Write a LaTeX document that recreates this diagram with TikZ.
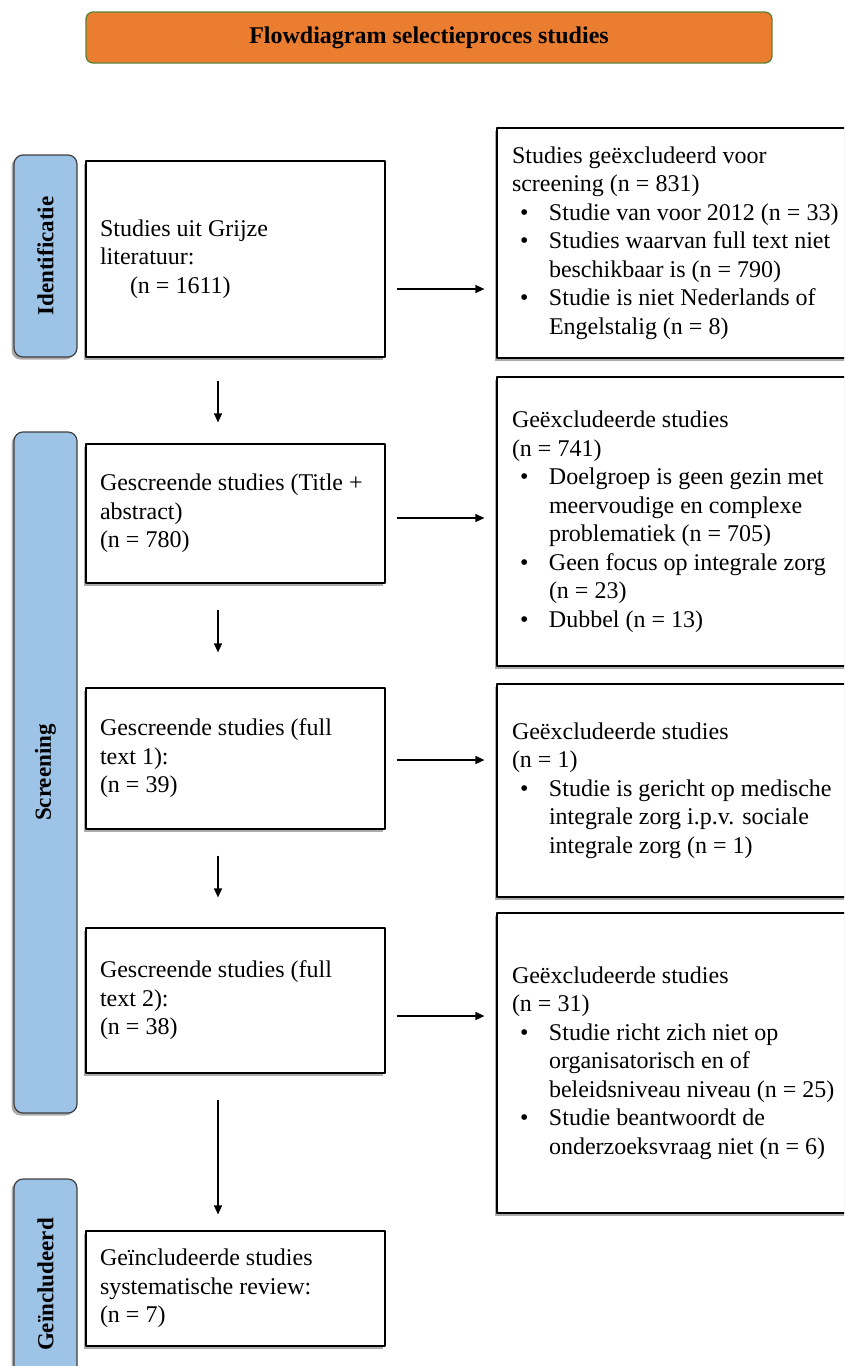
\documentclass[tikz,border=0pt]{standalone}
\usepackage{fontspec}
\usepackage{graphicx}
\setmainfont{Liberation Serif}
\usetikzlibrary{arrows.meta,shadows}
\definecolor{tabblue}{HTML}{9DC3E6}
\definecolor{titleorange}{HTML}{EB7D31}
\definecolor{titleedge}{HTML}{5E8236}
\newcommand{\bul}{\makebox[37pt][l]{\hspace*{8pt}\textbullet}}
\newcommand{\ind}{\hspace*{37pt}}
\tikzset{
  boxshadow/.style={drop shadow={shadow xshift=-2.5pt, shadow yshift=-2.5pt, opacity=1, fill=gray!65}},
  sidetab/.style={draw=black!75, line width=1.2pt, fill=tabblue, rounded corners=9pt, minimum width=63pt, inner sep=0pt, boxshadow, font=\bfseries\fontsize{23}{27}\selectfont},
  titlebox/.style={draw=titleedge, line width=1.3pt, fill=titleorange, rounded corners=7pt, minimum width=686pt, minimum height=51pt, font=\bfseries\fontsize{24}{28}\selectfont},
  lbox/.style={draw=black, line width=1.2pt, fill=white, minimum width=299pt, text width=271pt, inner xsep=14pt, align=flush left, boxshadow},
  rbox/.style={draw=black, line width=1.2pt, fill=white, minimum width=373pt, text width=343pt, inner xsep=15pt, align=flush left, boxshadow},
  arr/.style={-{Triangle[length=9pt, width=8pt]}, line width=1.3pt}
}
\begin{document}
\begin{tikzpicture}[x=1pt, y=-1pt, font=\fontsize{24}{28.5}\selectfont, line join=round]
\useasboundingbox (0,0) rectangle (844,1366);
\clip (0,0) rectangle (844,1366);
\node[titlebox] (title) at (429,37.5) {Flowdiagram selectieproces studies};
\node[sidetab, minimum height=202pt] (tabid) at (45.5,256) {\rotatebox{90}{Identificatie}};
\node[sidetab, minimum height=681pt] (tabscr) at (45.5,772.5) {\rotatebox{90}{Screening}};
\node[sidetab, minimum height=211pt] (tabinc) at (45.5,1284.5) {\rotatebox{90}{Geïncludeerd}};
\node[lbox, minimum height=196pt] (b1) at (235.5,259) {Studies uit Grijze\\ literatuur:\\ \hspace*{30pt}(n = 1611)};
\node[lbox, minimum height=139pt] (b2) at (235.5,513.5) {Gescreende studies (Title +\\ abstract)\\ (n = 780)};
\node[lbox, minimum height=141pt] (b3) at (235.5,758.5) {Gescreende studies (full\\ text 1):\\ (n = 39)};
\node[lbox, minimum height=145pt] (b4) at (235.5,1000.5) {Gescreende studies (full\\ text 2):\\ (n = 38)};
\node[lbox, minimum height=115pt] (b5) at (235.5,1288.5) {Geïncludeerde studies\\ systematische review:\\ (n = 7)};
\node[rbox, minimum height=230pt] (r1) at (683.5,243) {Studies geëxcludeerd voor\\ screening (n = 831)\\
  \bul Studie van voor 2012 (n = 33)\\ \bul Studies waarvan full text niet\\ \ind beschikbaar is (n = 790)\\
  \bul Studie is niet Nederlands of\\ \ind Engelstalig (n = 8)};
\node[rbox, minimum height=289pt] (r2) at (683.5,521.5) {Geëxcludeerde studies\\ (n = 741)\\
  \bul Doelgroep is geen gezin met\\ \ind meervoudige en complexe\\ \ind problematiek (n = 705)\\
  \bul Geen focus op integrale zorg\\ \ind (n = 23)\\ \bul Dubbel (n = 13)\par\vspace*{23pt}};
\node[rbox, minimum height=213pt] (r3) at (683.5,790.5) {Geëxcludeerde studies\\ (n = 1)\\
  \bul Studie is gericht op medische\\ \ind integrale zorg i.p.v. sociale\\ \ind integrale zorg (n = 1)};
\node[rbox, minimum height=300pt] (r4) at (683.5,1063) {Geëxcludeerde studies\\ (n = 31)\\
  \bul Studie richt zich niet op\\ \ind organisatorisch en of\\ \ind beleidsniveau niveau (n = 25)\\
  \bul Studie beantwoordt de\\ \ind onderzoeksvraag niet (n = 6)};
\coordinate (h1) at ([yshift=-30pt]b1.east);
\coordinate (h2) at ([yshift=-4.5pt]b2.east);
\coordinate (h3) at ([yshift=-1.5pt]b3.east);
\coordinate (h4) at ([yshift=-15.5pt]b4.east);
\draw[arr, shorten <=11pt, shorten >=12pt] (h1) -- (h1 -| r1.west);
\draw[arr, shorten <=11pt, shorten >=12pt] (h2) -- (h2 -| r2.west);
\draw[arr, shorten <=11pt, shorten >=12pt] (h3) -- (h3 -| r3.west);
\draw[arr, shorten <=11pt, shorten >=12pt] (h4) -- (h4 -| r4.west);
\draw[arr, shorten <=23pt, shorten >=21pt] ([xshift=-17.5pt]b1.south) -- ([xshift=-17.5pt]b2.north);
\draw[arr, shorten <=26pt, shorten >=35pt] ([xshift=-17.5pt]b2.south) -- ([xshift=-17.5pt]b3.north);
\draw[arr, shorten <=26pt, shorten >=30pt] ([xshift=-17.5pt]b3.south) -- ([xshift=-17.5pt]b4.north);
\draw[arr, shorten <=26pt, shorten >=16pt] ([xshift=-17.5pt]b4.south) -- ([xshift=-17.5pt]b5.north);
\end{tikzpicture}
\end{document}
